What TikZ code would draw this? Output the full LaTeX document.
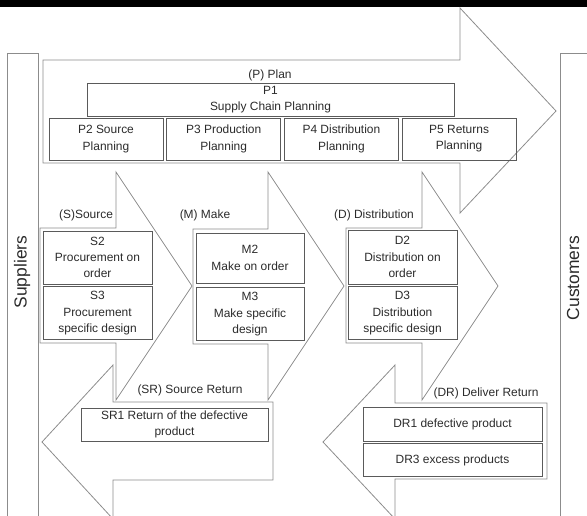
\documentclass[tikz,border=0pt]{standalone}
\usepackage{fontspec}
\setmainfont{Liberation Sans}
\usetikzlibrary{positioning}
\definecolor{arrowgray}{HTML}{8C8C8C}
\definecolor{boxgray}{HTML}{5A5A5A}
\definecolor{textgray}{HTML}{2B2B2B}
\tikzset{
  blockarrow/.style={draw=arrowgray, line width=0.8pt, line join=miter},
  sidebar/.style={draw=arrowgray, line width=0.8pt},
  stepbox/.style={draw=boxgray, line width=0.7pt, inner sep=0pt, align=center,
    text=textgray, font=\fontsize{12}{16.3}\selectfont},
  lbl/.style={inner sep=0pt, text=textgray, font=\fontsize{12}{15}\selectfont},
  sidelbl/.style={inner sep=0pt, rotate=90, text=textgray, font=\fontsize{17.5}{20}\selectfont},
}

\begin{document}
\begin{tikzpicture}[x=1bp, y=-1bp]
\useasboundingbox (0,0) rectangle (587,516);
\clip (0,0) rectangle (587,516);

% Top band
\fill[black] (0,0) rectangle (587,7.5);

% Suppliers and customers
\draw[sidebar] (7,53) rectangle (38,530);
\node[sidelbl] (sup) at (22,272) {Suppliers};
\draw[sidebar] (560,53) rectangle (600,530);
\node[sidelbl] (cus) at (573,278) {Customers};

% Plan arrow
\draw[blockarrow] (43,60) -- (460,60) -- (460,8) -- (556,111) -- (460,213) -- (460,163) -- (43,163) -- cycle;
\node[lbl] (plan) at (270,75) {(P) Plan};
\node[stepbox, minimum width=367bp, minimum height=33bp] (p1) at (270.5,99.5) {P1\\Supply Chain Planning};
\node[stepbox, minimum width=114bp, minimum height=42bp] (p2) at (106,139) {P2 Source\\Planning};
\node[stepbox, minimum width=114bp, minimum height=42bp, right=3bp of p2] (p3) {P3 Production\\Planning};
\node[stepbox, minimum width=114bp, minimum height=42bp, right=3bp of p3] (p4) {P4 Distribution\\Planning};
\node[stepbox, minimum width=114bp, minimum height=42bp, right=3bp of p4] (p5) {P5 Returns\\Planning};

% Source arrow
\draw[blockarrow] (40,228) -- (116,228) -- (116,172) -- (192,286) -- (116,400) -- (116,343) -- (40,343) -- cycle;
\node[lbl] (src) at (86,215) {(S)Source};
\node[stepbox, minimum width=109bp, minimum height=53bp] (s2) at (97.5,257.5) {S2\\Procurement on\\order};
\node[stepbox, minimum width=109bp, minimum height=53bp, below=2bp of s2] (s3) {S3\\Procurement\\specific design};

% Make arrow
\draw[blockarrow] (193,229) -- (268,229) -- (268,172) -- (344,286) -- (268,400) -- (268,344) -- (193,344) -- cycle;
\node[lbl] (make) at (205,215) {(M) Make};
\node[stepbox, minimum width=108bp, minimum height=50bp] (m2) at (250,258) {M2\\Make on order};
\node[stepbox, minimum width=108bp, minimum height=53bp, below=4bp of m2] (m3) {M3\\Make specific\\design};

% Distribution arrow
\draw[blockarrow] (346,228) -- (422,228) -- (422,172) -- (498,286) -- (422,400) -- (422,343) -- (346,343) -- cycle;
\node[lbl] (dist) at (374,215) {(D) Distribution};
\node[stepbox, minimum width=109bp, minimum height=54bp] (d2) at (402.5,257) {D2\\Distribution on\\order};
\node[stepbox, minimum width=109bp, minimum height=53bp, below=2bp of d2] (d3) {D3\\Distribution\\specific design};

% Source return arrow
\draw[blockarrow] (273,402) -- (113,402) -- (113,365) -- (42,442) -- (113,519) -- (113,480) -- (273,480) -- cycle;
\node[lbl] (sret) at (190,390) {(SR) Source Return};
\node[stepbox, minimum width=187bp, minimum height=33bp] (sr1) at (174.5,424.5) {SR1 Return of the defective\\product};

% Deliver return arrow
\draw[blockarrow] (547,403) -- (395,403) -- (395,365) -- (323,442) -- (395,519) -- (395,479) -- (547,479) -- cycle;
\node[lbl] (dret) at (486,393) {(DR) Deliver Return};
\node[stepbox, minimum width=179bp, minimum height=34bp] (dr1) at (452.5,424) {DR1 defective product};
\node[stepbox, minimum width=179bp, minimum height=33bp, below=2bp of dr1] (dr3) {DR3 excess products};

\end{tikzpicture}
\end{document}
